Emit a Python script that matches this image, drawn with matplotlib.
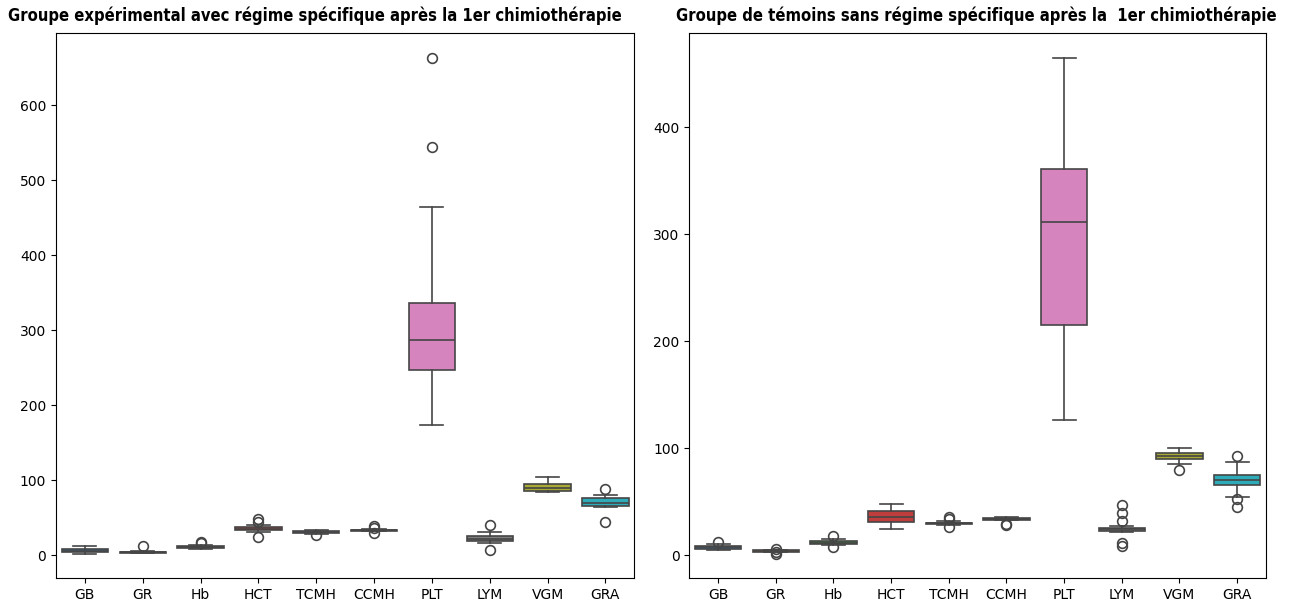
import matplotlib
matplotlib.use("Agg")
import matplotlib.pyplot as plt
import seaborn as sns

labels = ['GB', 'GR', 'Hb', 'HCT', 'TCMH', 'CCMH', 'PLT', 'LYM', 'VGM', 'GRA']

# groupe expérimental
exp_q1 = [4, 3.5, 9.5, 33.5, 30, 33, 247.6, 18.7, 86.3, 65.3]
exp_med = [6, 4, 11.5, 35.5, 31, 33.5, 286.7, 21.5, 90, 70.5]
exp_q3 = [8.5, 4.5, 13, 37.5, 33, 34.5, 336.5, 25.3, 95, 76.5]
exp_lo = [2.5, 2.8, 9, 31, 28.5, 32, 174, 17, 84, 64.5]
exp_hi = [12, 5.5, 14, 40, 34, 35, 464.5, 31, 104.5, 80]
exp_fliers = [[], [12], [16, 17.5], [48, 45, 24.5], [27], [39, 37, 30.5],
              [663, 545], [41, 7.5], [], [88.5, 45]]

# groupe témoin
ctl_q1 = [5.6, 3.2, 10, 30.8, 29, 33, 215, 22.4, 89.5, 65.9]
ctl_med = [7.2, 4, 11.8, 36, 30, 34, 311, 24.2, 92.6, 70.5]
ctl_q3 = [8.8, 4.7, 13, 41, 30.5, 35, 360.4, 25.8, 95.4, 75.2]
ctl_lo = [4.4, 3, 9.3, 24.6, 28.5, 33, 126.5, 21.8, 84.8, 54.4]
ctl_hi = [10, 5, 15, 47.5, 31.5, 35.5, 464.5, 27, 100, 87]
ctl_fliers = [[12.5], [6, 2.5, 1.5], [18, 7.2], [], [36, 33.5, 26.5], [29.5, 28],
              [], [47, 39, 32, 10.9, 8.7], [80], [92.6, 52.8, 45]]

titles = ["Groupe expérimental avec régime spécifique après la 1er chimiothérapie",
          "Groupe de témoins sans régime spécifique après la  1er chimiothérapie"]

colors = [sns.desaturate(c, 0.75) for c in sns.color_palette("tab10", 10)]
lc = (0.27, 0.27, 0.27)
lw = 1.2

fig = plt.figure(figsize=(12.9, 6.06), dpi=100)
ax1 = fig.add_axes([0.0434, 0.0457, 0.4483, 0.8993])
ax2 = fig.add_axes([0.5343, 0.0457, 0.4471, 0.8993])


def draw(ax, q1, med, q3, lo, hi, fl):
    stats = []
    for i in range(len(labels)):
        stats.append(dict(q1=q1[i], med=med[i], q3=q3[i], whislo=lo[i],
                          whishi=hi[i], fliers=fl[i], label=labels[i]))
    bp = ax.bxp(stats, positions=range(len(labels)), widths=0.8, capwidths=0.4,
                patch_artist=True, showfliers=True,
                boxprops=dict(edgecolor=lc, linewidth=lw),
                medianprops=dict(color=lc, linewidth=lw),
                whiskerprops=dict(color=lc, linewidth=lw),
                capprops=dict(color=lc, linewidth=lw),
                flierprops=dict(marker='o', markerfacecolor='none',
                                markeredgecolor=lc, markersize=7, markeredgewidth=lw))
    for patch, c in zip(bp['boxes'], colors):
        patch.set_facecolor(c)
    ax.set_xlim(-0.5, len(labels) - 0.5)
    ax.tick_params(labelsize=10)


draw(ax1, exp_q1, exp_med, exp_q3, exp_lo, exp_hi, exp_fliers)
draw(ax2, ctl_q1, ctl_med, ctl_q3, ctl_lo, ctl_hi, ctl_fliers)

# titres : police étroite en gras, largeur ajustée à celle de la référence
renderer = fig.canvas.get_renderer()
spots = [(8, 614), (676, 600)]
for t, (x0, wpx) in zip(titles, spots):
    txt = fig.text(x0 / 1290, 1 - 16 / 606, t, ha='left', va='center',
                   family='DejaVu Sans', fontstretch='condensed',
                   fontweight='bold', fontsize=12)
    w = txt.get_window_extent(renderer).width
    txt.set_fontsize(12 * wpx / w)

plt.savefig("out.png", dpi=100)
